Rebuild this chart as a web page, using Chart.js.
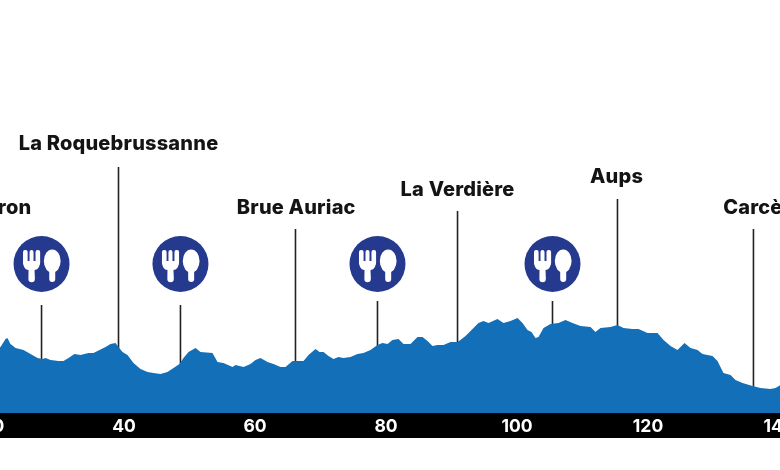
<!DOCTYPE html>
<html>
<head>
<meta charset="utf-8">
<title>Elevation profile</title>
<script src="https://cdn.jsdelivr.net/npm/chart.js@4/dist/chart.umd.min.js"></script>
<style>
  html, body { margin: 0; width: 780px; height: 470px; overflow: hidden; background: #fff; }
  #profile { position: absolute; left: -138px; top: 0; }
</style>
</head>
<body>
<canvas id="profile" width="1048" height="470"></canvas>
<script>
// Profile: distance in km, height in chart units
const distanceKm = [18.09, 21.15, 21.91, 22.2, 22.67, 23.44, 24.66, 25.73, 26.8, 27.56, 28.02, 28.78, 30, 30.76, 31.53, 32.44, 33.36, 34.58, 35.34, 36.26, 37.18, 37.94, 38.7, 39.16, 39.77, 40.53, 41.45, 42.52, 43.59, 44.5, 45.57, 46.64, 47.56, 48.47, 49.08, 49.85, 50.92, 51.68, 53.51, 54.28, 55.19, 56.57, 57.02, 58.25, 59.31, 60.08, 60.84, 61.91, 62.83, 63.89, 64.66, 65.73, 67.41, 68.17, 69.24, 69.85, 70.46, 71.22, 71.98, 72.75, 73.51, 74.58, 75.65, 76.56, 77.63, 78.7, 79.46, 80.23, 80.99, 81.91, 82.67, 83.74, 84.81, 85.57, 86.34, 87.1, 87.86, 88.78, 89.85, 90.92, 91.37, 92.14, 92.6, 93.36, 94.12, 94.88, 95.65, 97.02, 97.94, 99.01, 100.08, 100.84, 101.6, 102.21, 102.82, 103.28, 104.05, 105.11, 106.34, 107.4, 108.47, 109.69, 111.22, 111.98, 112.75, 114.27, 115.34, 116.26, 117.63, 118.55, 119.92, 121.45, 122.37, 123.44, 124.5, 125.57, 126.49, 127.56, 128.32, 129.85, 130.61, 131.52, 132.6, 133.36, 134.43, 135.95, 137.17, 138.7, 139.47, 140.23, 141.76, 144.8];
const elevation = [60, 66, 74, 75, 69, 65, 63, 59, 55, 54, 55, 53, 52, 52, 55, 59, 58, 60, 60, 63, 66, 69, 70, 66, 61, 58, 50, 44, 41, 40, 39, 41, 45, 49, 55, 61, 65, 61, 60, 51, 50, 46, 48, 46, 49, 53, 55, 51, 49, 46, 46, 52, 52, 58, 64, 61, 61, 57, 54, 56, 55, 56, 59, 60, 63, 68, 70, 69, 73, 74, 69, 69, 76, 76, 72, 67, 68, 68, 71, 71, 73, 77, 80, 85, 90, 92, 90, 94, 90, 92, 95, 90, 83, 81, 75, 76, 85, 89, 90, 93, 90, 87, 86, 81, 85, 86, 88, 85, 84, 84, 80, 80, 73, 67, 63, 70, 65, 63, 59, 57, 52, 40, 38, 33, 30, 27, 25, 24, 25, 28, 40, 45];

// Towns along the route
const townNames = ["ron", "La Roquebrussanne", "Brue Auriac", "La Verdière", "Aups", "Carcès"];
const townLabelKm = [23.3, 39.16, 66.3, 90.92, 115.2, 136.9];
const townLabelHeight = [205, 269, 205, 223, 236, 205];
const townKm = [null, 39.16, 66.18, 90.92, 115.34, 136.1];
const townStemTop = [null, 246, 184, 202, 214, 184];

// Food stops
const foodKm = [27.41, 48.62, 78.7, 105.42];
const foodStemTop = [108, 108, 112, 112];
const foodIconHeight = [149, 149, 149, 149];

const tickStep = 20;

function drawStem(ctx, chart, km, top) {
  const x = chart.scales.x.getPixelForValue(km);
  ctx.beginPath();
  ctx.moveTo(x, chart.scales.y.getPixelForValue(top));
  ctx.lineTo(x, chart.chartArea.bottom);
  ctx.stroke();
}

function drawFoodIcon(ctx, x, y) {
  ctx.fillStyle = "#25398f";
  ctx.beginPath();
  ctx.arc(x, y, 28, 0, Math.PI * 2);
  ctx.fill();

  ctx.fillStyle = "#fff";
  // fork
  ctx.beginPath();
  ctx.roundRect(x - 18.5, y - 14, 4.6, 15, 2);
  ctx.roundRect(x - 12, y - 14, 4, 15, 2);
  ctx.roundRect(x - 6, y - 14, 4.6, 15, 2);
  ctx.fill();
  ctx.beginPath();
  ctx.moveTo(x - 18.5, y - 3);
  ctx.lineTo(x - 1.4, y - 3);
  ctx.bezierCurveTo(x - 1.4, y + 3, x - 4, y + 6, x - 7, y + 6);
  ctx.lineTo(x - 6.6, y + 15);
  ctx.arc(x - 9.9, y + 15, 3.2, 0, Math.PI);
  ctx.lineTo(x - 13, y + 6);
  ctx.bezierCurveTo(x - 16, y + 6, x - 18.5, y + 3, x - 18.5, y - 3);
  ctx.fill();
  // spoon
  ctx.beginPath();
  ctx.ellipse(x + 10.7, y - 3, 8.4, 11.5, 0, 0, Math.PI * 2);
  ctx.fill();
  ctx.beginPath();
  ctx.roundRect(x + 7.7, y + 3, 6, 15, 3);
  ctx.fill();
}

const stemsBehindProfile = {
  id: "stemsBehindProfile",
  beforeDatasetsDraw(chart) {
    const ctx = chart.ctx;
    ctx.save();
    ctx.strokeStyle = "#222";
    ctx.lineWidth = 1.6;
    townKm.forEach((km, i) => {
      if (km !== null) drawStem(ctx, chart, km, townStemTop[i]);
    });
    foodKm.forEach((km, i) => drawStem(ctx, chart, km, foodStemTop[i]));
    ctx.restore();
  },
};

const routeAnnotations = {
  id: "routeAnnotations",
  afterDatasetsDraw(chart) {
    const ctx = chart.ctx;
    const { x: xScale, y: yScale } = chart.scales;
    ctx.save();
    ctx.font = "800 20px Inter, sans-serif";
    ctx.letterSpacing = "0.2px";
    ctx.fillStyle = "#141414";
    ctx.textAlign = "center";
    ctx.textBaseline = "middle";
    townNames.forEach((name, i) => {
      ctx.fillText(name, xScale.getPixelForValue(townLabelKm[i]), yScale.getPixelForValue(townLabelHeight[i]));
    });
    foodKm.forEach((km, i) => {
      drawFoodIcon(ctx, xScale.getPixelForValue(km), yScale.getPixelForValue(foodIconHeight[i]));
    });
    ctx.restore();
  },
};

new Chart(document.getElementById("profile"), {
  type: "line",
  data: {
    datasets: [
      {
        data: distanceKm.map((km, i) => ({ x: km, y: elevation[i] })),
        backgroundColor: "#126fb8",
        borderWidth: 0,
        pointRadius: 0,
        fill: "origin",
        tension: 0,
      },
    ],
  },
  options: {
    responsive: false,
    animation: false,
    layout: { padding: { left: 0, right: 0, top: 0, bottom: 32 } },
    plugins: { legend: { display: false }, tooltip: { enabled: false } },
    scales: {
      x: {
        type: "linear",
        min: 0,
        max: 160,
        backgroundColor: "#000",
        border: { display: false },
        grid: { display: false, drawTicks: false },
        afterFit(scale) {
          // the band runs to the canvas edges, no room kept for the end labels
          scale.height = 25;
          scale.paddingLeft = 0;
          scale.paddingRight = 0;
        },
        ticks: {
          stepSize: tickStep,
          autoSkip: false,
          maxRotation: 0,
          padding: 3,
          color: "#fff",
          font: { family: "Inter, sans-serif", size: 17.5, weight: "700" },
        },
      },
      y: { display: false, min: 0, max: 413 },
    },
  },
  plugins: [stemsBehindProfile, routeAnnotations],
});
</script>
</body>
</html>
